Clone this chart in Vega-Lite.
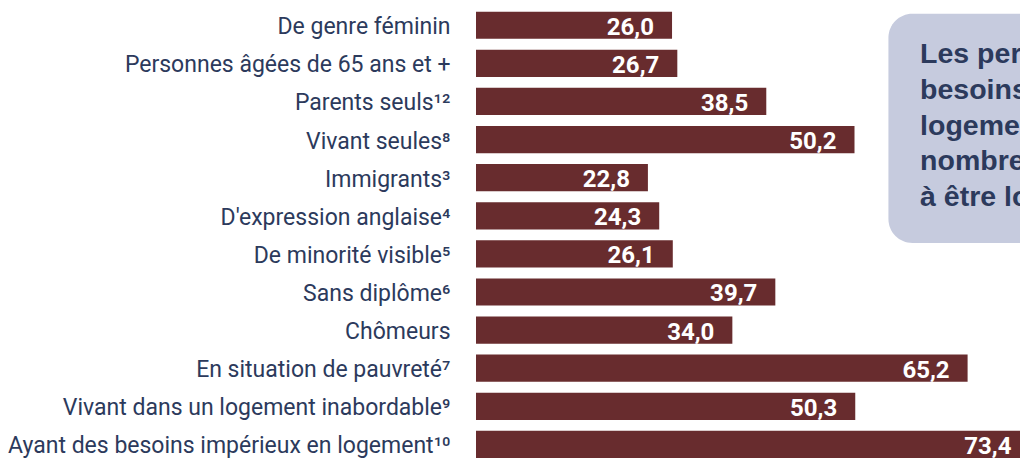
{
  "$schema": "https://vega.github.io/schema/vega-lite/v6.json",
  "autosize": "none",
  "width": 544,
  "height": 458,
  "padding": {"left": 476, "top": 0, "right": 0, "bottom": 0},
  "background": "white",
  "config": {"view": {"stroke": null}},
  "data": {"values": [
    {"cat": "De genre féminin", "value": 26.0, "label": "26,0"},
    {"cat": "Personnes âgées de 65 ans et +", "value": 26.7, "label": "26,7"},
    {"cat": "Parents seuls¹²", "value": 38.5, "label": "38,5"},
    {"cat": "Vivant seules⁸", "value": 50.2, "label": "50,2"},
    {"cat": "Immigrants³", "value": 22.8, "label": "22,8"},
    {"cat": "D'expression anglaise⁴", "value": 24.3, "label": "24,3"},
    {"cat": "De minorité visible⁵", "value": 26.1, "label": "26,1"},
    {"cat": "Sans diplôme⁶", "value": 39.7, "label": "39,7"},
    {"cat": "Chômeurs", "value": 34.0, "label": "34,0"},
    {"cat": "En situation de pauvreté⁷", "value": 65.2, "label": "65,2"},
    {"cat": "Vivant dans un logement inabordable⁹", "value": 50.3, "label": "50,3"},
    {"cat": "Ayant des besoins impérieux en logement¹⁰", "value": 73.4, "label": "73,4"}
  ]},
  "encoding": {
    "y": {
      "field": "cat", "type": "nominal", "sort": null,
      "scale": {"paddingInner": 0.286, "paddingOuter": 0.153, "align": 1},
      "axis": {
        "title": null, "domain": false, "ticks": false, "labelPadding": 26, "labelOffset": 2,
        "labelFont": "Roboto", "labelFontSize": 23, "labelColor": "#2c3a5c",
        "labelLimit": 0
      }
    }
  },
  "layer": [
    {
      "mark": {"type": "bar", "color": "#682c2e"},
      "encoding": {
        "x": {"field": "value", "type": "quantitative", "scale": {"domain": [0, 72.15], "nice": false, "zero": true}, "axis": null}
      }
    },
    {
      "mark": {"type": "text", "align": "right", "baseline": "middle", "dx": -18, "dy": 2.5, "color": "white", "font": "Roboto", "fontWeight": "bold", "fontSize": 24},
      "encoding": {
        "x": {"field": "value", "type": "quantitative"},
        "text": {"field": "label"}
      }
    },
    {
      "data": {"values": [{}]},
      "mark": {"type": "rect", "color": "#c6cbde", "cornerRadius": 24},
      "encoding": {
        "x": {"datum": 54.7, "type": "quantitative"},
        "x2": {"datum": 85},
        "y": {"datum": "De genre féminin", "bandPosition": 0.08},
        "y2": {"datum": "De minorité visible⁵", "bandPosition": 0.1}
      }
    },
    {
      "data": {"values": [{}]},
      "mark": {"type": "text", "align": "left", "baseline": "alphabetic", "lineHeight": 35.7, "color": "#2c3a5c", "font": "Liberation Sans", "fontWeight": "bold", "fontSize": 28.5},
      "encoding": {
        "x": {"datum": 58.9, "type": "quantitative"},
        "y": {"datum": "Personnes âgées de 65 ans et +", "bandPosition": 0.5},
        "text": {"value": ["Les personnes ayant des", "besoins impérieux en", "logement sont plus", "nombreuses à vivre seules et", "à être locataires"]}
      }
    }
  ]
}
